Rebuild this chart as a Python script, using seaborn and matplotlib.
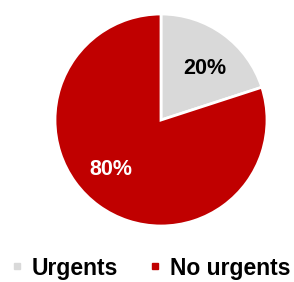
import matplotlib
matplotlib.use("Agg")
import matplotlib.pyplot as plt
from matplotlib.lines import Line2D
import seaborn as sns

categories = ["Urgents", "No urgents"]
values = [20, 80]
colors = ["#D9D9D9", "#C00000"]
label_colors = ["black", "white"]

sns.set_theme(style="white")
plt.rcParams['font.family'] = ['Liberation Sans', 'DejaVu Sans']

W, H = 294, 282
fig = plt.figure(figsize=(W/100, H/100), dpi=100)
cx, cy, r = 161, 120, 106
ax = fig.add_axes([(cx - r)/W, (H - cy - r)/H, 2*r/W, 2*r/H])

wedges, texts, autotexts = ax.pie(
    values, colors=colors, startangle=90, counterclock=False,
    autopct=lambda p: f"{p:.0f}%", pctdistance=0.65,
    wedgeprops=dict(edgecolor="white", linewidth=2),
    textprops=dict(fontsize=15.5, fontweight="bold"))
label_pos = [(0.41, 0.49), (-0.47, -0.47)]
for t, c, p in zip(autotexts, label_colors, label_pos):
    t.set_color(c)
    t.set_position(p)
ax.set_xlim(-1, 1)
ax.set_ylim(-1, 1)
ax.set_aspect("equal")
ax.axis("off")

handles = [Line2D([0], [0], marker="s", linestyle="none", markersize=5,
                  markerfacecolor=c, markeredgecolor=c) for c in colors]
leg = fig.legend(handles, categories, loc="center", bbox_to_anchor=(0.51, 1 - 268/H),
                 ncol=2, frameon=False, handlelength=0.6, handletextpad=0.35,
                 columnspacing=1.3, prop=dict(size=16.5, weight="bold"))
for t in leg.get_texts():
    t.set_color("black")

fig.savefig("out.png", dpi=100)
